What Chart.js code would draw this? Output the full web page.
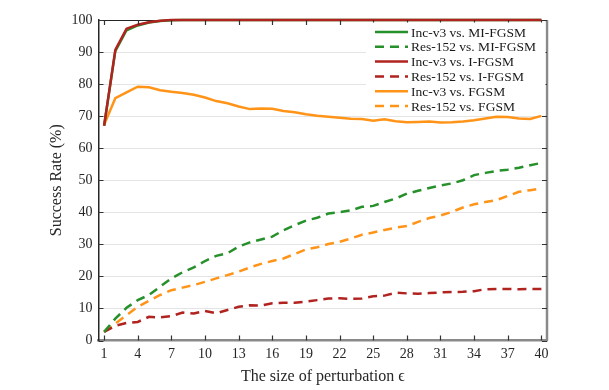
<!DOCTYPE html>
<html>
<head>
<meta charset="utf-8">
<script src="https://cdn.jsdelivr.net/npm/chart.js@4.4.1/dist/chart.umd.min.js"></script>
<style>
  html, body { margin: 0; padding: 0; background: #fff; }
  #wrap { width: 609px; height: 390px; }
</style>
</head>
<body>
<div id="wrap"><canvas id="c" width="609" height="390"></canvas></div>
<script>
// perturbation sizes (x)
const epsilons = [1, 2, 3, 4, 5, 6, 7, 8, 9, 10, 11, 12, 13, 14, 15, 16, 17, 18, 19, 20,
  21, 22, 23, 24, 25, 26, 27, 28, 29, 30, 31, 32, 33, 34, 35, 36, 37, 38, 39, 40];
const xTicks = [1, 4, 7, 10, 13, 16, 19, 22, 25, 28, 31, 34, 37, 40];
const yTicks = [0, 10, 20, 30, 40, 50, 60, 70, 80, 90, 100];

// success rates (%)
const incMI = [67, 90.3, 96.8, 98.3, 99.2, 99.7, 99.9, 100, 100, 100, 100, 100, 100, 100, 100, 100, 100, 100, 100, 100,
  100, 100, 100, 100, 100, 100, 100, 100, 100, 100, 100, 100, 100, 100, 100, 100, 100, 100, 100, 100];
const resMI = [2.7, 6.8, 10.2, 12.6, 14.2, 16.8, 19.4, 21.3, 22.8, 24.8, 26.4, 27.2, 29.3, 30.6, 31.5, 32.4, 34.4, 36, 37.4, 38.3,
  39.6, 40, 40.6, 41.7, 42, 43.2, 44.3, 45.8, 46.7, 47.6, 48.4, 49, 50, 51.6, 52.3, 52.9, 53.3, 53.9, 54.7, 55.4];
const incI = [67, 90.7, 97.3, 98.5, 99.3, 99.8, 100, 100, 100, 100, 100, 100, 100, 100, 100, 100, 100, 100, 100, 100,
  100, 100, 100, 100, 100, 100, 100, 100, 100, 100, 100, 100, 100, 100, 100, 100, 100, 100, 100, 100];
const resI = [2.7, 4.6, 5.5, 5.8, 7.4, 7.2, 7.6, 8.7, 8.4, 9.2, 8.5, 9.5, 10.5, 11, 10.9, 11.6, 11.8, 11.8, 12.1, 12.6,
  13.1, 13.2, 13, 13.1, 13.8, 14, 14.9, 14.7, 14.6, 14.8, 15, 15.1, 15.2, 15.4, 16, 16.1, 16.1, 16, 16.1, 16.1];
const incF = [67.3, 75.6, 77.4, 79.2, 79, 78.1, 77.6, 77.2, 76.7, 75.8, 74.7, 74, 73, 72.2, 72.4, 72.3, 71.6, 71.2, 70.6, 70.1,
  69.8, 69.5, 69.2, 69.1, 68.6, 69, 68.4, 68.1, 68.2, 68.3, 68, 68.1, 68.3, 68.75, 69.3, 69.8, 69.7, 69.3, 69.1, 70.1];
const resF = [2.7, 5.3, 7.9, 10.5, 12.4, 14.2, 15.7, 16.5, 17.3, 18.3, 19.4, 20.4, 21.5, 22.8, 23.9, 24.8, 25.6, 27, 28.4, 29.1,
  30.1, 30.8, 31.8, 33, 33.7, 34.5, 35.2, 35.7, 37, 38.2, 39, 40.1, 41.5, 42.5, 43.2, 43.8, 45.1, 46.4, 46.9, 47.4];

const GREEN = '#26902a';
const RED = '#b0231f';
const ORANGE = '#ff9418';
const SERIF = "'Liberation Serif', 'Times New Roman', serif";
const DASH = [9, 6];

function pts(vals) {
  return vals.map(function(v, i) { return { x: epsilons[i], y: v }; });
}

function line(label, vals, color, dashed, order) {
  return {
    label: label,
    data: pts(vals),
    borderColor: color,
    backgroundColor: color,
    borderWidth: 2.5,
    borderDash: dashed ? DASH : [],
    pointRadius: 0,
    tension: 0,
    fill: false,
    clip: 4,
    order: order
  };
}

// frame, inward ticks and the legend box inside the plot
const frame = {
  id: 'frame',
  beforeDatasetsDraw(chart) {
    const ctx = chart.ctx;
    const a = chart.chartArea;
    ctx.save();
    ctx.strokeStyle = '#262626';
    ctx.lineWidth = 1;
    ctx.beginPath();
    ctx.moveTo(a.left, a.top + 0.5);
    ctx.lineTo(a.right, a.top + 0.5);
    ctx.stroke();
    ctx.restore();
  },
  afterDatasetsDraw(chart) {
    const ctx = chart.ctx;
    const a = chart.chartArea;
    const xs = chart.scales.x, ys = chart.scales.y;
    ctx.save();
    ctx.strokeStyle = '#8a8a8a';
    ctx.lineWidth = 2.5;
    ctx.beginPath();
    ctx.moveTo(a.right, a.top);
    ctx.lineTo(a.right, a.bottom);
    ctx.stroke();

    ctx.strokeStyle = '#333';
    ctx.lineWidth = 1.2;
    ctx.beginPath();
    xTicks.forEach(function(v) {
      const px = Math.round(xs.getPixelForValue(v)) + 0.5;
      ctx.moveTo(px, a.bottom); ctx.lineTo(px, a.bottom - 5);
      ctx.moveTo(px, a.top); ctx.lineTo(px, a.top + 5);
    });
    yTicks.forEach(function(v) {
      const py = Math.round(ys.getPixelForValue(v)) + 0.5;
      ctx.moveTo(a.left, py); ctx.lineTo(a.left + 5, py);
      ctx.moveTo(a.right, py); ctx.lineTo(a.right - 5, py);
    });
    ctx.stroke();

    // legend
    ctx.fillStyle = '#fff';
    ctx.fillRect(366, 22.5, a.right - 367.5, 92);
    ctx.font = '13.5px ' + SERIF;
    ctx.textBaseline = 'middle';
    ctx.textAlign = 'left';
    chart.data.datasets.forEach(function(ds, i) {
      const y = 32 + i * 14.8;
      ctx.strokeStyle = ds.borderColor;
      ctx.lineWidth = 2.5;
      ctx.setLineDash(ds.borderDash);
      ctx.beginPath();
      ctx.moveTo(375, y); ctx.lineTo(408, y);
      ctx.stroke();
      ctx.setLineDash([]);
      ctx.fillStyle = '#1a1a1a';
      ctx.fillText(ds.label, 411, y + 1);
    });
    ctx.restore();
  }
};

new Chart(document.getElementById('c'), {
  type: 'line',
  data: {
    datasets: [
      line('Inc-v3 vs. MI-FGSM', incMI, GREEN, false, 2),
      line('Res-152 vs. MI-FGSM', resMI, GREEN, true, 2),
      line('Inc-v3 vs. I-FGSM', incI, RED, false, 1),
      line('Res-152 vs. I-FGSM', resI, RED, true, 2),
      line('Inc-v3 vs. FGSM', incF, ORANGE, false, 2),
      line('Res-152 vs. FGSM', resF, ORANGE, true, 2)
    ]
  },
  options: {
    responsive: false,
    animation: false,
    devicePixelRatio: 1,
    layout: { padding: { left: 0, right: 62, top: 20, bottom: 0 } },
    plugins: {
      legend: { display: false },
      tooltip: { enabled: false }
    },
    scales: {
      x: {
        type: 'linear',
        min: 0.5,
        max: 40.5,
        afterBuildTicks: function(scale) {
          scale.ticks = xTicks.map(function(v) { return { value: v }; });
        },
        afterFit: function(scale) { scale.height = 49.5; },
        grid: { display: true, drawOnChartArea: false, drawTicks: false },
        border: { display: true, color: '#8a8a8a', width: 2.5 },
        ticks: {
          font: { family: SERIF, size: 14 },
          color: '#262626',
          padding: 5,
          maxRotation: 0,
          autoSkip: false
        },
        title: {
          display: true,
          text: 'The size of perturbation \u03F5',
          font: { family: SERIF, size: 16 },
          color: '#262626',
          padding: { top: 0, bottom: 4 }
        }
      },
      y: {
        min: 0,
        max: 100,
        afterBuildTicks: function(scale) {
          scale.ticks = yTicks.map(function(v) { return { value: v }; });
        },
        afterFit: function(scale) { scale.width = 98.5; },
        grid: { color: '#e4e4e4', lineWidth: 1, drawTicks: false },
        border: { display: true, color: '#262626', width: 1.5 },
        ticks: {
          font: { family: SERIF, size: 14 },
          color: '#262626',
          padding: 6
        },
        title: {
          display: true,
          text: 'Success Rate (%)',
          font: { family: SERIF, size: 16 },
          color: '#262626',
          padding: { top: 47, bottom: 0 }
        }
      }
    }
  },
  plugins: [frame]
});
</script>
</body>
</html>
